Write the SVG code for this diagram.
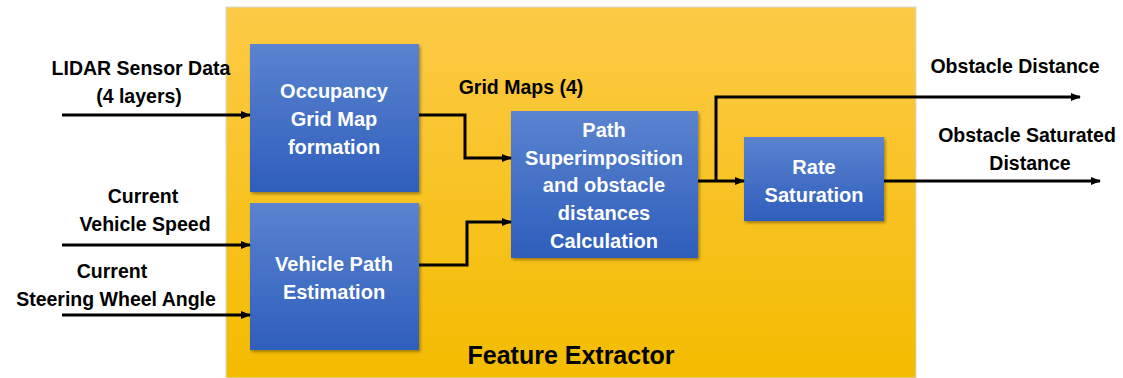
<svg xmlns="http://www.w3.org/2000/svg" width="1123" height="378" viewBox="0 0 1123 378">
<defs>
<linearGradient id="gy" x1="0" y1="0" x2="0" y2="1"><stop offset="0" stop-color="#FDCA47"/><stop offset="1" stop-color="#F3BC00"/></linearGradient>
<linearGradient id="gb" x1="0" y1="0" x2="0" y2="1"><stop offset="0" stop-color="#5B83CF"/><stop offset="1" stop-color="#2E5EBC"/></linearGradient>
<filter id="sh" x="-10%" y="-10%" width="125%" height="125%"><feDropShadow dx="1.5" dy="2" stdDeviation="1.5" flood-color="#000" flood-opacity="0.35"/></filter>
<marker id="ah" markerWidth="10" markerHeight="8" refX="9" refY="4" orient="auto" markerUnits="userSpaceOnUse"><path d="M0,0 L10,4 L0,8 z" fill="#000"/></marker>
<style>
.t{font-family:"Liberation Sans",Arial,sans-serif;font-weight:bold;font-size:19.5px;fill:#000;text-anchor:middle}
.w{fill:#fff;font-size:20px}
.box{fill:url(#gb);filter:url(#sh)}
.c{fill:none;stroke:#000;stroke-width:3;marker-end:url(#ah)}
</style>
</defs>
<rect width="1123" height="378" fill="#fff"/>
<g id="feature-extractor">
<rect x="226" y="7" width="690" height="371" fill="url(#gy)" stroke="#d9d9d9" stroke-width="1"/>
<text class="t" x="571" y="364" style="font-size:25px">Feature Extractor</text>
</g>
<g id="occupancy">
<rect class="box" x="250" y="44" width="169" height="148"/>
<text class="t w" x="334" y="98">Occupancy</text>
<text class="t w" x="334" y="126">Grid Map</text>
<text class="t w" x="334" y="154">formation</text>
</g>
<g id="vehicle-path">
<rect class="box" x="250" y="203" width="169" height="147"/>
<text class="t w" x="334" y="271">Vehicle Path</text>
<text class="t w" x="334" y="299">Estimation</text>
</g>
<g id="path-superimposition">
<rect class="box" x="511" y="111" width="187" height="147"/>
<text class="t w" x="604" y="137">Path</text>
<text class="t w" x="604" y="165">Superimposition</text>
<text class="t w" x="604" y="192">and obstacle</text>
<text class="t w" x="604" y="220">distances</text>
<text class="t w" x="604" y="248">Calculation</text>
</g>
<g id="rate-saturation">
<rect class="box" x="744" y="137" width="140" height="84"/>
<text class="t w" x="814" y="174">Rate</text>
<text class="t w" x="814" y="202">Saturation</text>
</g>
<g id="labels">
<text class="t" x="141" y="75">LIDAR Sensor Data</text>
<text class="t" x="139" y="103">(4 layers)</text>
<text class="t" x="143" y="203">Current</text>
<text class="t" x="145" y="231">Vehicle Speed</text>
<text class="t" x="112" y="278">Current</text>
<text class="t" x="116" y="306">Steering Wheel Angle</text>
<text class="t" x="521" y="94">Grid Maps (4)</text>
<text class="t" x="1015" y="73">Obstacle Distance</text>
<text class="t" x="1027" y="142">Obstacle Saturated</text>
<text class="t" x="1030" y="170">Distance</text>
</g>
<g id="connectors">
<path class="c" d="M62,115 H250"/>
<path class="c" d="M62,245 H250"/>
<path class="c" d="M62,315 H250"/>
<path class="c" d="M419,115 H465 V158 H511"/>
<path class="c" d="M419,265 H467 V222 H511"/>
<path class="c" d="M698,181 H744"/>
<path class="c" d="M716,181 V97 H1080"/>
<path class="c" d="M884,181 H1100"/>
</g>
</svg>
